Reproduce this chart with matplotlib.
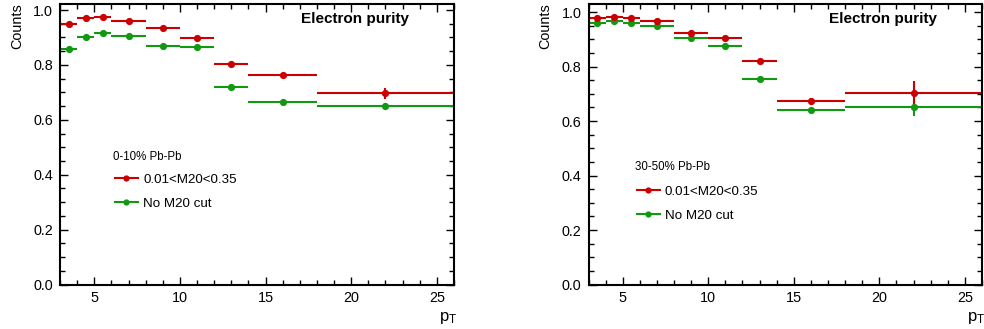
import matplotlib
matplotlib.use("Agg")
from matplotlib import pyplot as plt
from matplotlib.ticker import MultipleLocator, FormatStrFormatter
from matplotlib.lines import Line2D
import numpy as np

plt.rcParams['font.family'] = ['Liberation Sans', 'DejaVu Sans']
plt.rcParams['mathtext.default'] = 'regular'

# pT bins (same for both panels)
bin_edges = [3, 4, 5, 6, 8, 10, 12, 14, 18, 26]

# 0-10% Pb-Pb
cent1_label = '0-10% Pb-Pb'
cut1 = [0.949, 0.970, 0.973, 0.960, 0.935, 0.899, 0.802, 0.762, 0.697]
cut1_err = [0.004, 0.004, 0.004, 0.004, 0.004, 0.005, 0.006, 0.007, 0.020]
nocut1 = [0.859, 0.902, 0.916, 0.904, 0.870, 0.867, 0.721, 0.665, 0.650]
nocut1_err = [0.003, 0.003, 0.003, 0.003, 0.003, 0.004, 0.005, 0.005, 0.012]

# 30-50% Pb-Pb
cent2_label = '30-50% Pb-Pb'
cut2 = [0.977, 0.983, 0.977, 0.968, 0.925, 0.906, 0.821, 0.672, 0.702]
cut2_err = [0.004, 0.004, 0.004, 0.004, 0.005, 0.006, 0.007, 0.012, 0.044]
nocut2 = [0.959, 0.967, 0.962, 0.949, 0.905, 0.877, 0.755, 0.641, 0.650]
nocut2_err = [0.003, 0.003, 0.003, 0.003, 0.004, 0.005, 0.005, 0.008, 0.030]

labels = ['0.01<M20<0.35', 'No M20 cut']
red = '#cc0000'
green = '#119911'

edges = np.array(bin_edges, dtype=float)
centers = 0.5 * (edges[1:] + edges[:-1])
halfw = 0.5 * (edges[1:] - edges[:-1])

W, H = 984, 329
fig = plt.figure(figsize=(W / 100, H / 100), dpi=100)


def panel(x0, x1, ymax, cut, cut_err, nocut, nocut_err, cent, tpos, lpos):
    top, bot = 4, 284.5
    ax = fig.add_axes([x0 / W, 1 - bot / H, (x1 - x0) / W, (bot - top) / H])
    for y, e, c in [(nocut, nocut_err, green), (cut, cut_err, red)]:
        ax.errorbar(centers, y, xerr=halfw, yerr=e, fmt='o', color=c,
                    ms=5.2, elinewidth=1.5, capsize=0, mew=0)
    ax.set_xlim(3, 26)
    ax.set_ylim(0, ymax)
    ax.xaxis.set_major_locator(MultipleLocator(5))
    ax.xaxis.set_minor_locator(MultipleLocator(1))
    ax.yaxis.set_major_locator(MultipleLocator(0.2))
    ax.yaxis.set_minor_locator(MultipleLocator(0.05))
    ax.yaxis.set_major_formatter(FormatStrFormatter('%.1f'))
    ax.tick_params(which='both', direction='in', top=True, right=True,
                   labelsize=10.4, width=1)
    ax.tick_params(which='major', length=6)
    ax.tick_params(which='minor', length=3.5)
    ax.tick_params(axis='y', pad=5)
    ax.tick_params(axis='x', pad=5)
    for s in ax.spines.values():
        s.set_linewidth(1.5)

    ax.text(0.886, 0.946, 'Electron purity', transform=ax.transAxes,
            ha='right', va='center', fontsize=11, fontweight='bold')
    ax.text(tpos[0], tpos[1], cent, transform=ax.transAxes,
            ha='left', va='center', fontsize=8.3)
    handles = [Line2D([], [], color=red, marker='o', ms=4.5, lw=1.5, mew=0),
               Line2D([], [], color=green, marker='o', ms=4.5, lw=1.5, mew=0)]
    ax.legend(handles, labels, loc='upper left', bbox_to_anchor=lpos,
              frameon=False, fontsize=9.6, borderpad=0, borderaxespad=0,
              handlelength=1.7, handletextpad=0.4, labelspacing=0.88)

    fig.text((x0 - 43) / W, 1 - 3 / H, 'Counts', rotation=90,
             ha='center', va='top', fontsize=10.4)
    fig.text((x1 - 6) / W, 1 - 318 / H, r'$p_T$', ha='center',
             va='center', fontsize=12)
    return ax


panel(60, 454, 1.022, cut1, cut1_err, nocut1, nocut1_err, cent1_label,
      (0.1345, 0.454), (0.1396, 0.396))
panel(588.5, 982, 1.03, cut2, cut2_err, nocut2, nocut2_err, cent2_label,
      (0.118, 0.419), (0.123, 0.354))

fig.savefig('out.png', dpi=100)
